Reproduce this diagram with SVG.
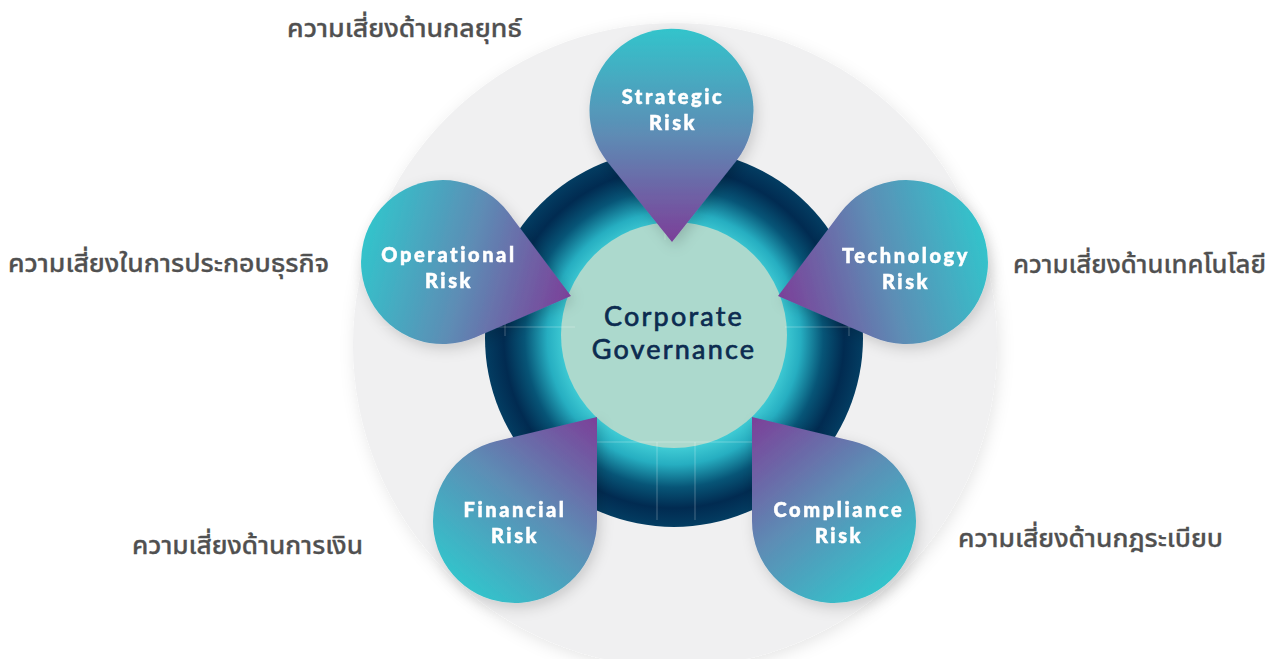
<svg xmlns="http://www.w3.org/2000/svg" width="1279" height="659" viewBox="0 0 1279 659">
  <style>
    .th { font-family: "Noto Sans Thai", "Noto Sans Thai Looped", "Noto Sans", "DejaVu Sans", sans-serif; font-size: 25px; font-weight: 500; fill: #505050; stroke: #505050; stroke-width: 0.3px; }
    .pt { font-family: Lato, "Liberation Sans", sans-serif; font-weight: 900; font-size: 20px; fill: #ffffff; stroke: #ffffff; stroke-width: 0.5px; letter-spacing: 2.6px; text-anchor: middle; }
    .cg { font-family: Lato, "Liberation Sans", sans-serif; font-weight: 400; font-size: 27px; fill: #0c2b50; stroke: #0c2b50; stroke-width: 0.7px; letter-spacing: 2.2px; text-anchor: middle; }
    .guide { stroke: #ffffff; stroke-opacity: 0.28; stroke-width: 1; fill: none; }
  </style>
  <defs>
    <filter id="bgShadow" x="-20%" y="-20%" width="140%" height="140%">
      <feGaussianBlur in="SourceAlpha" stdDeviation="8"/>
      <feOffset dx="2" dy="4" result="b"/>
      <feFlood flood-color="#000" flood-opacity="0.10"/>
      <feComposite in2="b" operator="in"/>
      <feMerge><feMergeNode/><feMergeNode in="SourceGraphic"/></feMerge>
    </filter>
    <filter id="petalShadow" x="-30%" y="-30%" width="160%" height="160%">
      <feGaussianBlur in="SourceAlpha" stdDeviation="7"/>
      <feOffset dx="3" dy="5" result="b"/>
      <feFlood flood-color="#000" flood-opacity="0.16"/>
      <feComposite in2="b" operator="in"/>
      <feMerge><feMergeNode/><feMergeNode in="SourceGraphic"/></feMerge>
    </filter>
    <radialGradient id="ringGrad" cx="674" cy="338" r="189" gradientUnits="userSpaceOnUse">
      <stop offset="0.58" stop-color="#40ccd5"/>
      <stop offset="0.67" stop-color="#26aec1"/>
      <stop offset="0.79" stop-color="#075577"/>
      <stop offset="0.90" stop-color="#012b51"/>
      <stop offset="1" stop-color="#033d62"/>
    </radialGradient>
    <linearGradient id="gS" gradientUnits="userSpaceOnUse" x1="672" y1="30" x2="672" y2="236">
      <stop offset="0" stop-color="#33c3cb"/>
      <stop offset="0.5" stop-color="#5d8db5"/>
      <stop offset="1" stop-color="#7a439a"/>
    </linearGradient>
    <linearGradient id="gO" gradientUnits="userSpaceOnUse" x1="364" y1="241" x2="566" y2="295">
      <stop offset="0" stop-color="#33c3cb"/>
      <stop offset="0.5" stop-color="#5d8db5"/>
      <stop offset="1" stop-color="#7a439a"/>
    </linearGradient>
    <linearGradient id="gT" gradientUnits="userSpaceOnUse" x1="985" y1="241" x2="783" y2="295">
      <stop offset="0" stop-color="#33c3cb"/>
      <stop offset="0.5" stop-color="#5d8db5"/>
      <stop offset="1" stop-color="#7a439a"/>
    </linearGradient>
    <linearGradient id="gF" gradientUnits="userSpaceOnUse" x1="464" y1="585" x2="594" y2="422">
      <stop offset="0" stop-color="#33c3cb"/>
      <stop offset="0.5" stop-color="#5d8db5"/>
      <stop offset="1" stop-color="#7a439a"/>
    </linearGradient>
    <linearGradient id="gC" gradientUnits="userSpaceOnUse" x1="885" y1="585" x2="755" y2="422">
      <stop offset="0" stop-color="#33c3cb"/>
      <stop offset="0.5" stop-color="#5d8db5"/>
      <stop offset="1" stop-color="#7a439a"/>
    </linearGradient>
  </defs>

  <rect width="1279" height="659" fill="#ffffff"/>

  <g id="background">
    <circle cx="675" cy="345" r="322" fill="#f0f0f1" filter="url(#bgShadow)"/>
  </g>

  <g id="ring">
    <circle cx="674" cy="338" r="189" fill="url(#ringGrad)"/>
  </g>

  <g id="node-core">
    <circle cx="674" cy="335" r="113" fill="#acd9cd"/>
    <text class="cg" x="674" y="326">Corporate</text>
    <text class="cg" x="674" y="359">Governance</text>
  </g>

  <g id="connectors">
    <line class="guide" x1="665" y1="96" x2="665" y2="240"/>
    <line class="guide" x1="684" y1="96" x2="684" y2="225"/>
    <line class="guide" x1="380" y1="327" x2="575" y2="327"/>
    <line class="guide" x1="505" y1="320" x2="505" y2="336"/>
    <line class="guide" x1="785" y1="327" x2="968" y2="327"/>
    <line class="guide" x1="849" y1="320" x2="849" y2="336"/>
    <line class="guide" x1="597" y1="442" x2="754" y2="442"/>
    <line class="guide" x1="657" y1="442" x2="657" y2="520"/>
    <line class="guide" x1="695" y1="442" x2="695" y2="520"/>
  </g>

  <g id="node-strategic" filter="url(#petalShadow)">
    <path d="M607.1,161.4 L672,242 L736.6,160.5 A82,82 0 1 0 607.1,161.4 Z" fill="url(#gS)"/>
    <text class="pt" x="673" y="104">Strategic</text>
    <text class="pt" x="673" y="130">Risk</text>
  </g>

  <g id="node-operational" filter="url(#petalShadow)">
    <path d="M475.6,337.3 L571,296 L508.6,212.8 A82,82 0 1 0 475.6,337.3 Z" fill="url(#gO)"/>
    <text class="pt" x="449" y="262">Operational</text>
    <text class="pt" x="449" y="288">Risk</text>
  </g>

  <g id="node-technology" filter="url(#petalShadow)">
    <path d="M873.4,337.3 L778,296 L840.4,212.8 A82,82 0 1 1 873.4,337.3 Z" fill="url(#gT)"/>
    <text class="pt" x="906" y="263">Technology</text>
    <text class="pt" x="906" y="289">Risk</text>
  </g>

  <g id="node-financial" filter="url(#petalShadow)">
    <path d="M597,521 L597,417 L495.9,441.3 A82,82 0 1 0 597,521 Z" fill="url(#gF)"/>
    <text class="pt" x="515" y="517">Financial</text>
    <text class="pt" x="515" y="543">Risk</text>
  </g>

  <g id="node-compliance" filter="url(#petalShadow)">
    <path d="M752,521 L752,417 L853.1,441.3 A82,82 0 1 1 752,521 Z" fill="url(#gC)"/>
    <text class="pt" x="839" y="517">Compliance</text>
    <text class="pt" x="839" y="543">Risk</text>
  </g>

  <g id="labels">
    <text class="th" x="287" y="37" textLength="235" lengthAdjust="spacingAndGlyphs">ความเสี่ยงด้านกลยุทธ์</text>
    <text class="th" x="8" y="272" textLength="321" lengthAdjust="spacingAndGlyphs">ความเสี่ยงในการประกอบธุรกิจ</text>
    <text class="th" x="1013" y="273" textLength="253" lengthAdjust="spacingAndGlyphs">ความเสี่ยงด้านเทคโนโลยี</text>
    <text class="th" x="132" y="554" textLength="231" lengthAdjust="spacingAndGlyphs">ความเสี่ยงด้านการเงิน</text>
    <text class="th" x="958" y="547" textLength="265" lengthAdjust="spacingAndGlyphs">ความเสี่ยงด้านกฎระเบียบ</text>
  </g>
</svg>
